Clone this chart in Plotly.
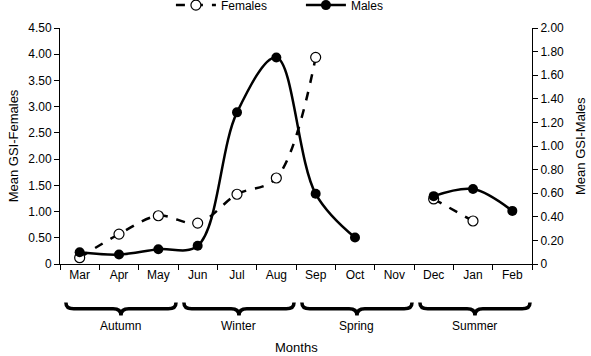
import plotly.graph_objects as go

months = ["Mar", "Apr", "May", "Jun", "Jul", "Aug", "Sep", "Oct", "Nov", "Dec", "Jan", "Feb"]
females = [0.12, 0.57, 0.92, 0.78, 1.33, 1.64, 3.94, None, None, 1.24, 0.82, None]
males = [0.10, 0.08, 0.125, 0.155, 1.285, 1.75, 0.595, 0.225, None, 0.575, 0.635, 0.45]
seasons = ["Autumn", "Winter", "Spring", "Summer"]
season_start = [0, 3, 6, 9]

left_vals = [0, 0.5, 1, 1.5, 2, 2.5, 3, 3.5, 4, 4.5]
left_text = ["0"] + [f"{v:.2f}" for v in left_vals[1:]]
right_vals = [0, 0.2, 0.4, 0.6, 0.8, 1.0, 1.2, 1.4, 1.6, 1.8, 2.0]
right_text = ["0"] + [f"{v:.2f}" for v in right_vals[1:]]

FONT = "Liberation Sans, Arial, sans-serif"

fig = go.Figure()
fig.add_trace(go.Scatter(
    x=months, y=females, name="Females", mode="lines+markers",
    line=dict(color="black", width=2.5, dash="dash", shape="spline"),
    marker=dict(symbol="circle", size=10, color="white", line=dict(color="black", width=1.2)),
    connectgaps=False, yaxis="y"))
fig.add_trace(go.Scatter(
    x=months, y=males, name="Males", mode="lines+markers",
    line=dict(color="black", width=2.5, shape="spline"),
    marker=dict(symbol="circle", size=10, color="black"),
    connectgaps=False, yaxis="y2"))

# season braces
yt, ym, yb = -0.163, -0.19, -0.218
for s, st in zip(seasons, season_start):
    x0 = st - 0.35
    x1 = st + 2.45
    xm = (x0 + x1) / 2
    d = 0.2
    path = (f"M {x0},{yt} Q {x0},{ym} {x0+d},{ym} L {xm-d},{ym} Q {xm},{ym} {xm},{yb} "
            f"Q {xm},{ym} {xm+d},{ym} L {x1-d},{ym} Q {x1},{ym} {x1},{yt}")
    fig.add_shape(type="path", path=path, xref="x", yref="paper",
                  line=dict(color="black", width=3.5))
    fig.add_annotation(x=xm, y=-0.262, xref="x", yref="paper", text=s, showarrow=False,
                       yanchor="middle", font=dict(size=12, color="black", family=FONT))

fig.add_annotation(x=0.5, y=-0.355, xref="paper", yref="paper", text="Months",
                   showarrow=False, yanchor="middle", font=dict(size=13, color="black", family=FONT))
fig.add_annotation(x=1.0, xshift=48, y=0.5, xref="paper", yref="paper", text="Mean GSI-Males",
                   textangle=-90, showarrow=False, xanchor="center", yanchor="middle",
                   font=dict(size=13, color="black", family=FONT))

fig.update_layout(
    width=591, height=356,
    margin=dict(l=60, r=59, t=28, b=92, autoexpand=False),
    paper_bgcolor="white", plot_bgcolor="white",
    font=dict(family=FONT, size=12, color="black"),
    showlegend=True,
    legend=dict(orientation="h", x=0.235, y=1.097, xanchor="left", yanchor="middle",
                font=dict(size=12), itemwidth=40, entrywidth=75, entrywidthmode="pixels",
                bgcolor="rgba(0,0,0,0)"),
    xaxis=dict(type="category", categoryorder="array", categoryarray=months,
               range=[-0.5, 11.5], showline=True, linecolor="black", linewidth=1,
               ticks="outside", tickson="boundaries", ticklen=5, tickcolor="black",
               showgrid=False, zeroline=False, tickfont=dict(size=12)),
    yaxis=dict(range=[0, 4.5], tickvals=left_vals, ticktext=left_text,
               showline=True, linecolor="black", linewidth=1, ticks="outside",
               ticklen=5, tickcolor="black", showgrid=False, zeroline=False,
               title=dict(text="Mean GSI-Females", font=dict(size=13), standoff=6)),
    yaxis2=dict(range=[0, 2.0], tickvals=right_vals, ticktext=right_text,
                overlaying="y", side="right",
                showline=True, linecolor="black", linewidth=1, ticks="outside",
                ticklen=5, tickcolor="black", showgrid=False, zeroline=False),
)

fig.write_html("out.html", config={"displayModeBar": False},
               post_script="document.body.style.margin='0';document.body.style.overflow='hidden';")
